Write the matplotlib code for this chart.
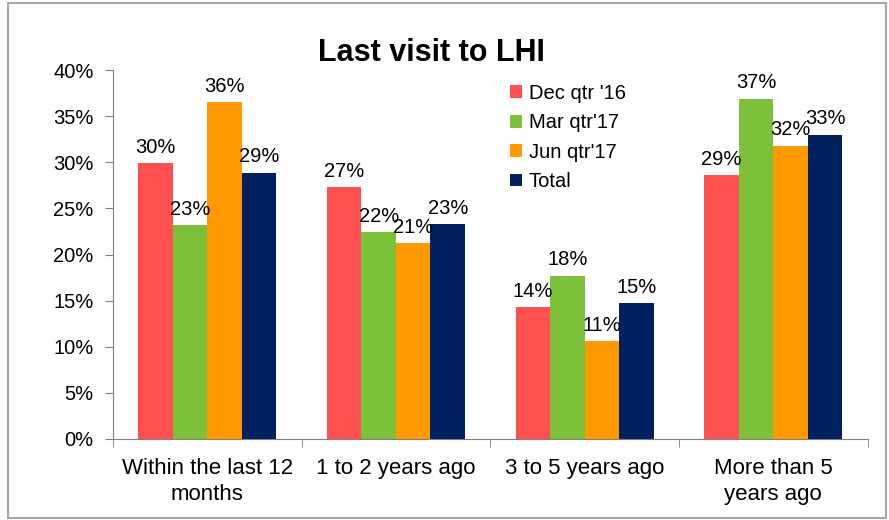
import numpy as np
import matplotlib.pyplot as plt
from matplotlib.patches import Rectangle

plt.rcParams['font.family'] = ['Liberation Sans', 'DejaVu Sans']

# data
categories = ['Within the last 12\nmonths', '1 to 2 years ago', '3 to 5 years ago', 'More than 5\nyears ago']
series_names = ["Dec qtr '16", "Mar qtr'17", "Jun qtr'17", "Total"]
dec_qtr16 = [29.9, 27.3, 14.3, 28.6]
mar_qtr17 = [23.2, 22.4, 17.7, 36.9]
jun_qtr17 = [36.5, 21.2, 10.6, 31.8]
total = [28.9, 23.3, 14.7, 33.0]
colors = ['#FF5050', '#7DC13A', '#FF9900', '#002060']

series = [dec_qtr16, mar_qtr17, jun_qtr17, total]

fig = plt.figure(figsize=(8.89, 5.2), dpi=100)
ax = fig.add_axes([0.127, 0.156, 0.849, 0.709])

x = np.arange(len(categories))
w = 0.183
for i, (vals, name, c) in enumerate(zip(series, series_names, colors)):
    pos = x + (i - 1.5) * w
    ax.bar(pos, vals, width=w, color=c, label=name, edgecolor='none')
    for p, v in zip(pos, vals):
        ax.text(p, v + 0.7, f"{round(v):.0f}%", ha='center', va='bottom', fontsize=14.5)

ax.set_xlim(-0.5, len(categories) - 0.5)
ax.set_ylim(0, 40)
ax.set_yticks(np.arange(0, 41, 5))
ax.set_yticklabels([f"{t}%" for t in range(0, 41, 5)], fontsize=14.5)
ax.set_xticks(x)
ax.set_xticklabels(categories, fontsize=16, linespacing=1.3)
ax.tick_params(axis='x', length=0, pad=14)
ax.set_xticks(np.arange(-0.5, len(categories), 1), minor=True)
ax.tick_params(axis='x', which='minor', length=6, color='#808080', direction='out')
ax.tick_params(axis='y', length=6, color='#808080', direction='out', pad=8)

for s in ['top', 'right']:
    ax.spines[s].set_visible(False)
for s in ['left', 'bottom']:
    ax.spines[s].set_color('#808080')

fig.text(0.485, 0.898, 'Last visit to LHI', ha='center', va='center', fontsize=22, fontweight='bold')

ax.legend(loc='upper left', bbox_to_anchor=(0.515, 0.985), frameon=False, fontsize=14.5,
          handlelength=0.6, handleheight=0.6, handletextpad=0.35, labelspacing=0.52,
          borderaxespad=0)

# outer frame of the chart
fig.patches.append(Rectangle((0.009, 0.004), 0.988, 0.99, transform=fig.transFigure,
                             fill=False, edgecolor='#A6A6A6', linewidth=1.5))

fig.savefig('out.png', dpi=100)
